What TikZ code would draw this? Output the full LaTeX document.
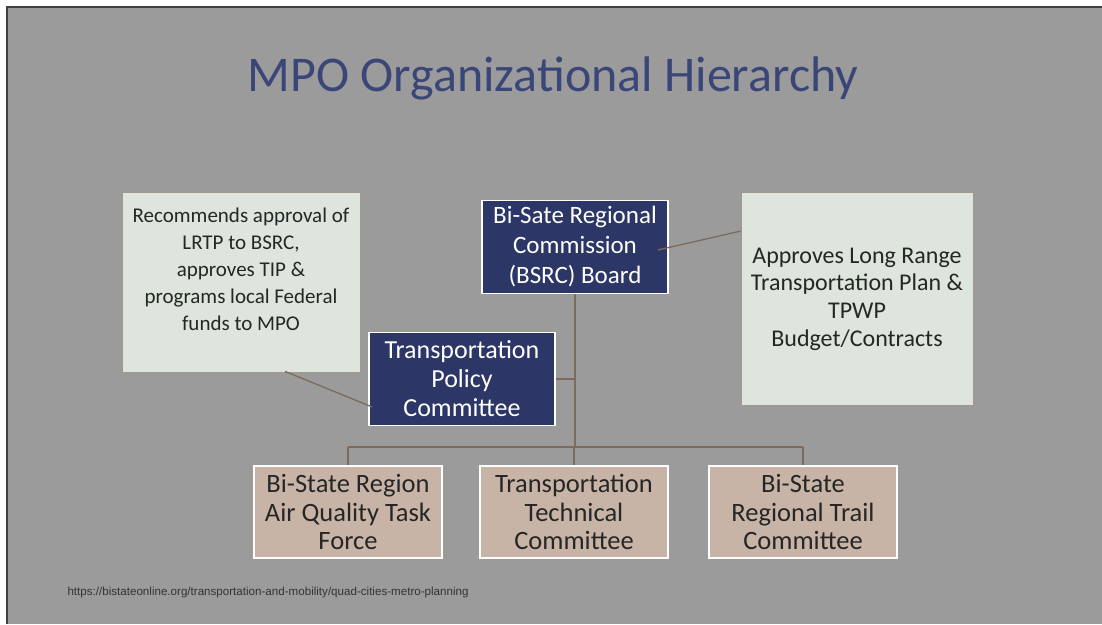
\documentclass[tikz,border=0pt]{standalone}
\usepackage{fontspec}
\setmainfont{Carlito}
\newfontfamily\urlfont{Liberation Sans}
\usetikzlibrary{positioning,calc}

\definecolor{slidegray}{HTML}{9B9B9B}
\definecolor{navy}{HTML}{2C3667}
\definecolor{titleblue}{HTML}{3A4677}
\definecolor{paleface}{HTML}{DEE5DD}
\definecolor{tan}{HTML}{C8B4A6}
\definecolor{linkbrown}{HTML}{7C6A5B}

\tikzset{
	navybox/.style={draw=white, line width=1.6pt, fill=navy, text=white, inner sep=0pt,
		minimum width=186, minimum height=93, align=center},
	tanbox/.style={draw=white, line width=1.6pt, fill=tan, text=black!85, inner sep=0pt,
		minimum width=188, minimum height=92, align=center, font=\fontsize{26.5}{28.5}\selectfont},
	palebox/.style={draw=linkbrown!70, line width=0.8pt, fill=paleface, text=black!85, inner sep=0pt,
		align=center},
	link/.style={draw=linkbrown, line width=1.3pt}
}

\begin{document}
\begin{tikzpicture}[x=1pt,y=-1pt]
	\useasboundingbox (0,0) rectangle (1102,624);
	\fill[white] (0,0) rectangle (1102,624);
	\fill[slidegray] (7,7) rectangle (1102,624);
	\draw[black!75, line width=2pt] (1102,7) -- (7,7) -- (7,624);

	% title
	\node[text=titleblue, font=\fontsize{50}{56}\selectfont] (title) at (553,78) {MPO Organizational Hierarchy};

	% top of the tree
	\node[navybox, font=\fontsize{25}{30}\selectfont] (bsrc) at (575,247) {Bi-Sate Regional\\Commission\\(BSRC) Board};
	\node[navybox, font=\fontsize{26}{29}\selectfont] (tpc) at (462,379) {Transportation\\Policy\\Committee};

	% side notes
	\node[palebox, minimum width=238, minimum height=180] (lrtp) at (241,282) {};
	\node[palebox, draw=none, fill=none, font=\fontsize{21}{27}\selectfont] (lrtptext) at (241,269)
		{Recommends approval of\\LRTP to BSRC,\\approves TIP \&\\programs local Federal\\funds to MPO};
	\node[palebox, minimum width=232, minimum height=213, font=\fontsize{24}{27.7}\selectfont] (approve) at (857,299)
		{Approves Long Range\\Transportation Plan \&\\TPWP\\Budget/Contracts};

	% committees
	\coordinate (bus) at (575,447);
	\foreach \name/\xpos/\txt in {air/348/{Bi-State Region\\Air Quality Task\\Force},
		ttc/574/{Transportation\\Technical\\Committee},
		trail/803/{Bi-State\\Regional Trail\\Committee}}{
		\node[tanbox] (\name) at (\xpos,512) {\txt};
		\draw[link] (\name.north) -- (\name.north |- bus);
	}
	\draw[link] (air.north |- bus) -- (trail.north |- bus);
	\draw[link] (bsrc.south) -- (bus);
	\draw[link] (tpc.east) -- (tpc.east -| bsrc.south);

	% notes hooked on
	\draw[link] ($(lrtp.south)+(44,-1)$) -- ($(tpc.west)+(4,28)$);
	\draw[link] ($(bsrc.east)+(-11,3)$) -- ($(approve.north west)+(0,39)$);

	\node[anchor=west, text=black!80, font=\urlfont\fontsize{11.6}{13}\selectfont] (source) at (64,592)
		{https://bistateonline.org/transportation-and-mobility/quad-cities-metro-planning};
\end{tikzpicture}
\end{document}
